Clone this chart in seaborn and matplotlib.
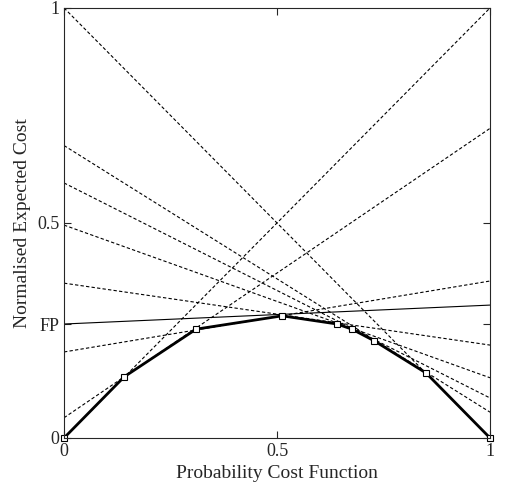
import numpy as np
import matplotlib
matplotlib.use('Agg')
import matplotlib.pyplot as plt
import seaborn as sns

# cost lines: value at x=0 and at x=1
left_vals = [1.0, 0.68, 0.593, 0.495, 0.36, 0.2, 0.047, 0.0]
right_vals = [0.0, 0.06, 0.093, 0.14, 0.216, 0.365, 0.72, 1.0]
# lower envelope
env_x = [0, 0.141, 0.31, 0.512, 0.641, 0.676, 0.728, 0.85, 1]
env_y = [0, 0.142, 0.253, 0.284, 0.265, 0.253, 0.226, 0.151, 0]
fp_line = [0.265, 0.309]

sns.set_style('ticks')
plt.rcParams['font.family'] = ['Liberation Serif', 'DejaVu Serif']

fig = plt.figure(figsize=(5.18, 4.96), dpi=100)
ax = fig.add_axes([0.1236, 0.117, 0.8224, 0.867])

for l, r in zip(left_vals, right_vals):
    sns.lineplot(x=[0, 1], y=[l, r], ax=ax, color='black', lw=0.8, linestyle=(0, (3, 2)))
sns.lineplot(x=[0, 1], y=fp_line, ax=ax, color='black', lw=0.8)
ax.plot(env_x, env_y, color='black', lw=2, marker='s', ms=5, mfc='white', mec='black', mew=0.8, clip_on=False)

ax.set_xlim(0, 1)
ax.set_ylim(0, 1)
ax.set_xticks([0, 0.5, 1])
ax.set_xticklabels(['0', '0.5', '1'])
ax.set_yticks([0, fp_line[0], 0.5, 1])
ax.set_yticklabels(['0', 'FP', '0.5', '1'])
ax.tick_params(direction='in', top=True, right=True, labelsize=13, length=5)
for s in ax.spines.values():
    s.set_linewidth(0.8)
ax.set_xlabel('Probability Cost Function', fontsize=14)
ax.set_ylabel('Normalised Expected Cost', fontsize=14)

fig.savefig('out.png', dpi=100)
